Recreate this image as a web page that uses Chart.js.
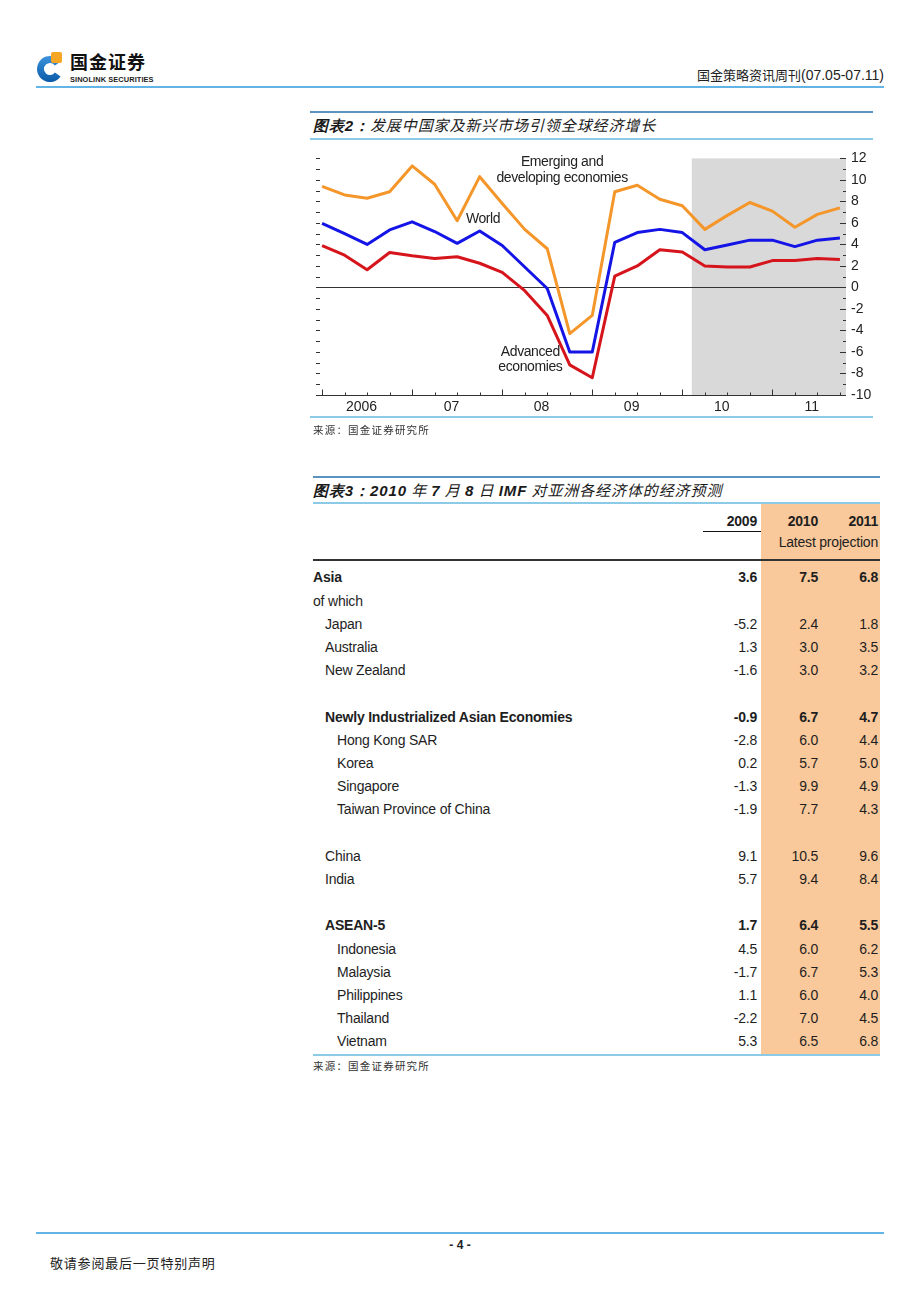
<!DOCTYPE html>
<html>
<head>
<meta charset="utf-8">
<script src="https://cdn.jsdelivr.net/npm/chart.js@4.4.0/dist/chart.umd.min.js"></script>
<style>
body { margin: 0; width: 920px; height: 1302px; position: relative; background: #fff; overflow: hidden;
       font-family: 'Liberation Sans', Arial, sans-serif; color: #1e1e1e; }
.abs { position: absolute; }
.cn { font-family: 'Noto Sans CJK SC', sans-serif; }
.rule { position: absolute; height: 2px; }
.ttl { position: absolute; left: 313px; font-style: italic; font-size: 15px; line-height: 20px; color: #1a1a1a; letter-spacing: 0.9px; white-space: nowrap; }
.ttl b { font-family: 'Liberation Sans', Arial, sans-serif; font-size: 15px; }
.src { position: absolute; left: 313px; font-size: 10.5px; line-height: 14px; letter-spacing: 1.2px; color: #333; }
.row { position: absolute; height: 23.2px; line-height: 23.2px; font-size: 14px; letter-spacing: -0.2px; white-space: nowrap; }
.num { text-align: right; width: 60px; }
</style>
</head>
<body>

<!-- header -->
<svg class="abs" style="left:34px;top:49px" width="32" height="36" viewBox="0 0 32 36">
  <defs>
    <linearGradient id="lg" x1="0" y1="0" x2="0" y2="1">
      <stop offset="0" stop-color="#3d93dc"/><stop offset="1" stop-color="#0b5aa8"/>
    </linearGradient>
  </defs>
  <path d="M26.6 12.5 A13 13 0 1 0 26.6 27.5 L20.9 23.4 A6 6 0 1 1 20.9 16.6 Z" fill="url(#lg)"/>
  <rect x="17" y="3" width="11" height="11" rx="2" fill="#f5a623"/>
</svg>
<div class="abs cn" style="left:70px;top:52px;font-size:18px;line-height:18px;font-weight:bold;color:#111;letter-spacing:1px">国金证券</div>
<div class="abs" style="left:70px;top:76px;font-size:7.4px;line-height:8px;font-weight:bold;color:#222;letter-spacing:0.1px">SINOLINK SECURITIES</div>
<div class="abs cn" style="right:36px;top:66px;font-size:13px;line-height:18px;color:#222">国金策略资讯周刊<span style="font-family:'Liberation Sans',Arial,sans-serif;font-size:14px">(07.05-07.11)</span></div>
<div class="rule" style="left:36px;top:86px;width:848px;background:#62b4e6"></div>

<!-- chart 2 -->
<div class="rule" style="left:310px;top:111px;width:563px;background:#5a92c0"></div>
<div class="ttl cn" style="top:115px"><b>图表2：</b>发展中国家及新兴市场引领全球经济增长</div>
<div class="rule" style="left:310px;top:138px;width:563px;height:1.5px;background:#8ccbe8"></div>
<canvas id="c" class="abs" style="left:310px;top:145px" width="570" height="272"></canvas>
<div class="rule" style="left:310px;top:416px;width:563px;background:#8ccbe8"></div>
<div class="src cn" style="top:423px">来源：国金证券研究所</div>

<!-- table 3 -->
<div class="rule" style="left:313px;top:476px;width:567px;background:#5a92c0"></div>
<div class="ttl cn" style="top:480px"><b>图表3：2010</b> 年 <b>7</b> 月 <b>8</b> 日 <b>IMF</b> 对亚洲各经济体的经济预测</div>
<div class="rule" style="left:313px;top:502px;width:567px;height:1.5px;background:#8ccbe8"></div>
<div class="abs" style="left:761px;top:504px;width:119px;height:550px;background:#f9c89b"></div>
<div id="tbl"></div>
<div class="abs" style="left:703px;top:531px;width:58px;height:1px;background:#111"></div>
<div class="abs" style="left:313px;top:559px;width:567px;height:2px;background:#333"></div>
<div class="rule" style="left:313px;top:1054px;width:567px;background:#8ccbe8"></div>
<div class="src cn" style="top:1059px">来源：国金证券研究所</div>

<!-- footer -->
<div class="rule" style="left:36px;top:1232px;width:848px;background:#62b4e6"></div>
<div class="abs" style="left:440px;top:1237px;width:40px;text-align:center;font-size:12px;line-height:16px;font-weight:bold;color:#222">- 4 -</div>
<div class="abs cn" style="left:50px;top:1254px;font-size:13px;line-height:17px;letter-spacing:0.8px;color:#222">敬请参阅最后一页特别声明</div>

<script>
// chart data: real GDP growth, quarterly 2006Q1 - 2011Q4
const quarters = ['2006Q1','2006Q2','2006Q3','2006Q4','2007Q1','2007Q2','2007Q3','2007Q4',
                  '2008Q1','2008Q2','2008Q3','2008Q4','2009Q1','2009Q2','2009Q3','2009Q4',
                  '2010Q1','2010Q2','2010Q3','2010Q4','2011Q1','2011Q2','2011Q3','2011Q4'];
const emerging = [9.4, 8.6, 8.3, 8.9, 11.3, 9.6, 6.2, 10.3, 7.8, 5.4, 3.6, -4.3,
                  -2.6, 8.9, 9.5, 8.2, 7.6, 5.4, 6.7, 7.9, 7.1, 5.6, 6.8, 7.4];
const world    = [5.95, 5.0, 4.0, 5.35, 6.1, 5.2, 4.1, 5.25, 3.9, 1.9, -0.1, -6.0,
                  -6.0, 4.2, 5.1, 5.4, 5.1, 3.5, 3.95, 4.4, 4.4, 3.8, 4.4, 4.6];
const advanced = [3.9, 3.0, 1.65, 3.25, 2.95, 2.7, 2.85, 2.25, 1.4, -0.3, -2.6, -7.2,
                  -8.4, 1.05, 2.0, 3.5, 3.3, 2.0, 1.9, 1.9, 2.5, 2.5, 2.7, 2.6];
const years = ['2006', '07', '08', '09', '10', '11'];
const yearTickAt = [1.75, 5.75, 9.75, 13.75, 17.75, 21.75];
const forecastFrom = 16.42;

// table data
const rowNames = ['Asia', 'of which', 'Japan', 'Australia', 'New Zealand', '',
  'Newly Industrialized Asian Economies', 'Hong Kong SAR', 'Korea', 'Singapore', 'Taiwan Province of China', '',
  'China', 'India', '',
  'ASEAN-5', 'Indonesia', 'Malaysia', 'Philippines', 'Thailand', 'Vietnam'];
const v2009 = [3.6, null, -5.2, 1.3, -1.6, null, -0.9, -2.8, 0.2, -1.3, -1.9, null, 9.1, 5.7, null, 1.7, 4.5, -1.7, 1.1, -2.2, 5.3];
const v2010 = [7.5, null, 2.4, 3.0, 3.0, null, 6.7, 6.0, 5.7, 9.9, 7.7, null, 10.5, 9.4, null, 6.4, 6.0, 6.7, 6.0, 7.0, 6.5];
const v2011 = [6.8, null, 1.8, 3.5, 3.2, null, 4.7, 4.4, 5.0, 4.9, 4.3, null, 9.6, 8.4, null, 5.5, 6.2, 5.3, 4.0, 4.5, 6.8];
const rowLevel = [0, 0, 1, 1, 1, 0, 1, 2, 2, 2, 2, 0, 1, 1, 0, 1, 2, 2, 2, 2, 2];
const boldRows = ['Asia', 'Newly Industrialized Asian Economies', 'ASEAN-5'];

// ---- table ----
const tbl = document.getElementById('tbl');
function cell(text, left, top, cls, bold) {
    const d = document.createElement('div');
    d.className = 'row ' + (cls || '');
    d.style.left = left + 'px';
    d.style.top = top + 'px';
    if (bold) d.style.fontWeight = 'bold';
    d.textContent = text;
    tbl.appendChild(d);
}
const colRight = [757, 818, 878];
['2009', '2010', '2011'].forEach((t, i) => cell(t, colRight[i] - 60, 509.5, 'num', true));
cell('Latest projection', 761, 530.5, '', false);
tbl.lastChild.style.width = '117px';
tbl.lastChild.style.textAlign = 'right';
rowNames.forEach((name, i) => {
    if (!name) return;
    const top = 566.4 + i * 23.2;
    const bold = boldRows.includes(name);
    cell(name, 313 + rowLevel[i] * 12, top, '', bold);
    [v2009, v2010, v2011].forEach((col, j) => {
        if (col[i] !== null) cell(col[i].toFixed(1), colRight[j] - 60, top, 'num', bold);
    });
});

// ---- chart ----
const FONT = "'Liberation Sans', Arial, sans-serif";
const notes = [
    { text: 'Emerging and', x: 10.66, y: 11.65 },
    { text: 'developing economies', x: 10.66, y: 10.17 },
    { text: 'World', x: 7.15, y: 6.38 },
    { text: 'Advanced', x: 9.25, y: -6.0 },
    { text: 'economies', x: 9.25, y: -7.4 }
];

const decor = {
    id: 'decor',
    beforeDatasetsDraw(chart) {
        const { ctx, chartArea: a, scales: { x, y } } = chart;
        ctx.save();
        const sx = x.getPixelForValue(forecastFrom);
        ctx.fillStyle = '#d9d9d9';
        ctx.fillRect(sx, a.top, a.right - sx, a.bottom - a.top);
        ctx.strokeStyle = '#333';
        ctx.lineWidth = 1;
        const y0 = Math.round(y.getPixelForValue(0)) + 0.5;
        ctx.beginPath(); ctx.moveTo(a.left, y0); ctx.lineTo(a.right, y0); ctx.stroke();
        ctx.restore();
    },
    afterDatasetsDraw(chart) {
        const { ctx, chartArea: a, scales: { x, y } } = chart;
        ctx.save();
        ctx.strokeStyle = '#333';
        ctx.lineWidth = 1;
        ctx.beginPath();
        const yb = Math.round(a.bottom) + 0.5;
        ctx.moveTo(a.left, yb); ctx.lineTo(a.right, yb);
        quarters.forEach((q, i) => {
            const px = Math.round(x.getPixelForValue(i)) + 0.5;
            ctx.moveTo(px, yb); ctx.lineTo(px, yb - (i % 4 === 0 ? 6 : 3));
        });
        for (let v = -10; v <= 12; v++) {
            const py = Math.round(y.getPixelForValue(v)) + 0.5;
            ctx.moveTo(a.left, py); ctx.lineTo(a.left + 4, py);
            ctx.moveTo(a.right - (v % 2 === 0 ? 6 : 3), py); ctx.lineTo(a.right, py);
        }
        ctx.stroke();

        ctx.fillStyle = '#222';
        ctx.font = '14px ' + FONT;
        ctx.letterSpacing = '-0.4px';
        ctx.textAlign = 'center';
        ctx.textBaseline = 'middle';
        notes.forEach(n => ctx.fillText(n.text, x.getPixelForValue(n.x), y.getPixelForValue(n.y)));
        ctx.restore();
    }
};

const line = (label, vals, color) => ({
    label, data: vals.map((v, i) => ({ x: i, y: v })),
    borderColor: color, borderWidth: 3, pointRadius: 0, tension: 0, fill: false, borderJoinStyle: 'round'
});

new Chart(document.getElementById('c'), {
    type: 'line',
    data: {
        datasets: [
            line('Emerging and developing economies', emerging, '#f5962a'),
            line('World', world, '#1414e6'),
            line('Advanced economies', advanced, '#d5141c')
        ]
    },
    options: {
        responsive: false,
        animation: false,
        layout: { padding: { left: 6, top: 12, right: 0, bottom: 0 } },
        plugins: { legend: { display: false }, tooltip: { enabled: false } },
        scales: {
            x: {
                type: 'linear', min: -0.27, max: 23.27,
                grid: { display: false, drawTicks: false }, border: { display: false },
                afterBuildTicks: s => { s.ticks = yearTickAt.map(v => ({ value: v })); },
                ticks: { callback: (v, i) => years[i], autoSkip: false, maxRotation: 0, padding: 4,
                         color: '#222', font: { size: 14, family: FONT } },
                afterFit: s => { s.height = 22; }
            },
            y: {
                position: 'right', min: -10, max: 12,
                grid: { display: false, drawTicks: false }, border: { display: false },
                ticks: { stepSize: 2, padding: 5, color: '#222', font: { size: 14, family: FONT } },
                afterFit: s => { s.width = 34; }
            }
        }
    },
    plugins: [decor]
});
</script>
</body>
</html>
